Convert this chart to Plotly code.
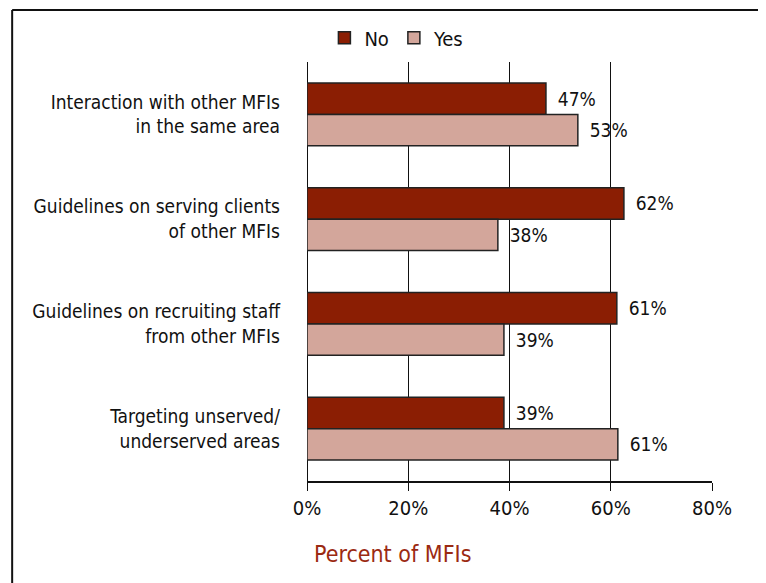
import plotly.graph_objects as go

categories = [
    "Interaction with other MFIs<br>in the same area",
    "Guidelines on serving clients<br>of other MFIs",
    "Guidelines on recruiting staff<br>from other MFIs",
    "Targeting unserved/<br>underserved areas",
]
no_values = [47.2, 62.6, 61.2, 38.9]
yes_values = [53.5, 37.7, 38.9, 61.4]
no_labels = ["47%", "62%", "61%", "39%"]
yes_labels = ["53%", "38%", "39%", "61%"]
x_ticks = [0, 20, 40, 60, 80]

FONT = "DejaVu Sans Condensed, Liberation Sans Narrow, sans-serif"
NO_COLOR = "#8b1e03"
YES_COLOR = "#d3a69b"

fig = go.Figure()
for name, vals, labels, color in (
    ("No", no_values, no_labels, NO_COLOR),
    ("Yes", yes_values, yes_labels, YES_COLOR),
):
    fig.add_trace(go.Bar(
        y=categories, x=vals, name=name, orientation="h",
        marker=dict(color=color, line=dict(color="#222222", width=1.5)),
        text=labels, textposition="outside",
        texttemplate=" \u2009%{text}", cliponaxis=False,
        textfont=dict(family=FONT, size=19, color="#111111"),
    ))

# page body adds an 8px margin; keep the figure inside the window width
fig.update_layout(
    width=750, height=575,
    margin=dict(l=299, r=46, t=54, b=102, autoexpand=False),
    paper_bgcolor="white", plot_bgcolor="white",
    barmode="group", bargap=0.4, bargroupgap=0,
    font=dict(family=FONT, size=19, color="#111111"),
    showlegend=True,
    legend=dict(
        orientation="h", x=0.222, xanchor="center", y=1.058, yanchor="middle",
        font=dict(family=FONT, size=20, color="#111111"),
        bgcolor="rgba(0,0,0,0)", traceorder="normal",
    ),
    xaxis=dict(
        range=[0, 80], tickvals=x_ticks, ticktext=[f"{v}%" for v in x_ticks],
        showgrid=True, gridcolor="#111111", gridwidth=1,
        zeroline=True, zerolinecolor="#111111", zerolinewidth=1,
        showline=True, linecolor="#111111", linewidth=1.5,
        ticks="outside", ticklen=8, tickcolor="#111111",
        tickfont=dict(family=FONT, size=20, color="#111111"),
    ),
    yaxis=dict(
        autorange="reversed", showgrid=False, showline=False,
        ticks="", ticklabelstandoff=26,
        tickfont=dict(family=FONT, size=19, color="#111111"),
    ),
    # frame: only the left and top edges fall inside the picture
    shapes=[
        dict(type="line", xref="paper", yref="paper",
             x0=-0.728, x1=-0.728, y0=-0.4, y1=1.124,
             line=dict(color="#111111", width=2)),
        dict(type="line", xref="paper", yref="paper",
             x0=-0.728, x1=1.15, y0=1.124, y1=1.124,
             line=dict(color="#111111", width=2)),
    ],
    annotations=[dict(
        text="Percent of MFIs", xref="paper", yref="paper",
        x=0.012, y=-0.175, xanchor="left", yanchor="middle", showarrow=False,
        font=dict(family=FONT, size=23, color="#9b2a12"),
    )],
)

fig.write_html("out.html")
